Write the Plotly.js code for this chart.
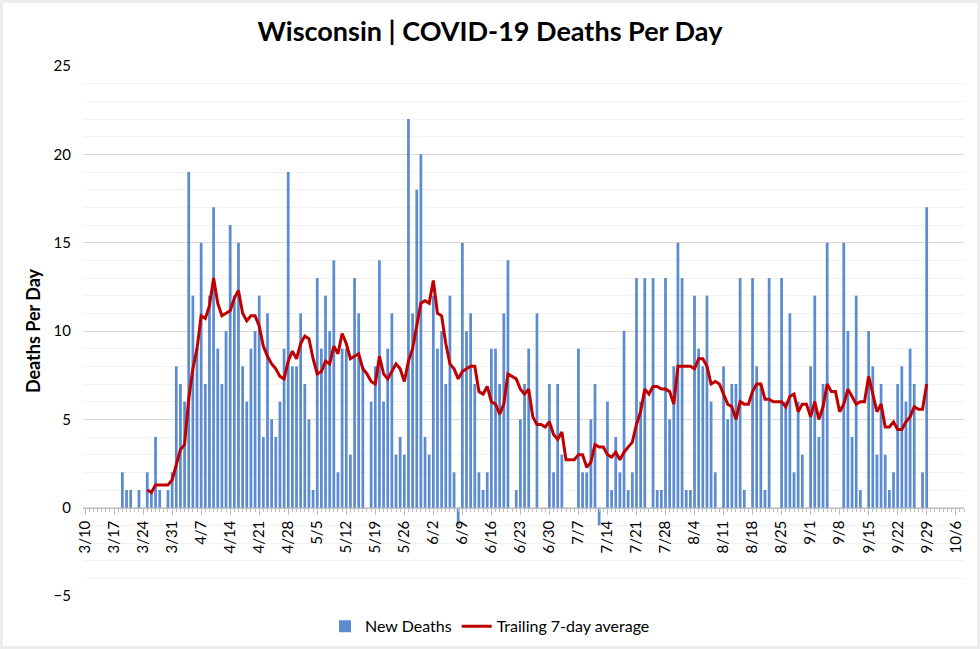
<!DOCTYPE html>
<html>
<head>
<meta charset="utf-8">
<script src="https://cdn.plot.ly/plotly-3.0.1.min.js"></script>
<style>
  html, body { margin: 0; padding: 0; background: #ffffff; }
  #chart { position: absolute; left: 0; top: 0; width: 980px; height: 649px; background: #ffffff; box-shadow: inset 0 0 0 3px #ececec; }
</style>
</head>
<body>
<div id="chart"></div>
<script>
// ---- data ----
const firstDate = '2020-03-19';      // first daily value
const avgFirstDate = '2020-03-25';   // first trailing-average value

const deaths = [
  2,1,1,0,1,0,2,1,4,1,0,1,2,8,
  7,6,19,12,9,15,7,12,17,9,7,10,16,12,15,8,6,9,10,12,4,11,5,4,6,9,19,8,8,11,
  7,5,1,13,9,12,10,14,2,9,9,3,13,11,8,0,6,8,14,6,9,11,3,4,3,22,11,18,20,4,3,
  12,9,10,7,12,2,-1,15,10,11,7,2,1,2,9,9,7,11,14,0,1,5,7,9,0,11,0,0,7,2,
  7,3,0,0,0,9,2,2,5,7,-1,0,6,1,4,2,10,1,2,13,6,13,0,13,1,1,13,5,8,15,13,
  1,1,12,9,8,12,6,2,0,8,5,7,7,13,1,0,13,8,7,1,13,0,0,13,6,11,2,6,3,0,8,
  12,4,7,15,0,0,0,15,10,4,12,1,0,10,8,3,7,3,1,2,7,8,6,9,7,0,2,17
];

const avg7 = [
  1.00,0.86,1.29,1.29,1.29,1.29,1.57,2.43,
  3.29,3.57,6.14,7.86,9.00,10.86,10.71,11.43,13.00,11.57,10.86,11.00,11.14,11.86,12.29,11.00,10.57,10.86,10.86,10.29,9.14,8.57,8.14,7.86,7.43,7.29,8.29,8.86,8.43,9.29,
  9.71,9.57,8.43,7.57,7.71,8.29,8.14,9.14,8.71,9.86,9.29,8.43,8.57,8.71,7.86,7.57,7.14,7.00,8.57,7.57,7.29,7.71,8.14,7.86,7.14,8.29,9.00,10.29,11.57,11.71,11.57,
  12.86,11.00,10.86,9.29,8.14,7.86,7.29,7.71,7.86,8.00,8.00,6.57,6.43,6.86,6.00,5.86,5.29,5.86,7.57,7.43,7.29,6.71,6.43,6.71,5.14,4.71,4.71,4.57,4.86,4.14,
  3.86,4.29,2.71,2.71,2.71,3.00,3.00,2.29,2.57,3.57,3.43,3.43,3.00,2.86,3.14,2.71,3.14,3.43,3.71,4.71,5.43,6.71,6.43,6.86,6.86,6.71,6.71,6.57,5.86,8.00,8.00,
  8.00,8.00,7.86,8.43,8.43,8.00,7.00,7.14,7.00,6.43,5.86,5.71,5.00,6.00,5.86,5.86,6.57,7.00,7.00,6.14,6.14,6.00,6.00,6.00,5.71,6.29,6.43,5.43,5.86,5.86,5.14,
  6.00,5.00,5.71,7.00,6.57,6.57,5.43,5.86,6.71,6.29,5.86,6.00,6.00,7.43,6.43,5.43,5.86,4.57,4.57,4.86,4.43,4.43,4.86,5.14,5.71,5.57,5.57,7.00
];

const titleText = 'Wisconsin | COVID-19 Deaths Per Day';
const yTitle = 'Deaths Per Day';
const seriesNames = ['New Deaths', 'Trailing 7-day average'];

// ---- chart ----
const DAY = 86400000;
const FONT = 'Lato, "Open Sans", sans-serif';

const traces = [
  {
    type: 'bar',
    name: seriesNames[0],
    x0: firstDate,
    dx: DAY,
    y: deaths,
    marker: { color: '#5b8bd0', line: { width: 0 } },
    hoverinfo: 'skip'
  },
  {
    type: 'scatter',
    mode: 'lines',
    name: seriesNames[1],
    x0: avgFirstDate,
    dx: DAY,
    y: avg7,
    line: { color: '#c00000', width: 3 },
    hoverinfo: 'skip'
  }
];

const layout = {
  width: 980,
  height: 649,
  paper_bgcolor: 'rgba(0,0,0,0)',
  plot_bgcolor: 'rgba(0,0,0,0)',
  margin: { l: 83, r: 16, t: 66, b: 53 },
  font: { family: FONT, size: 15, color: '#000000' },
  title: {
    text: '<b>' + titleText + '</b>',
    font: { family: FONT, size: 27, color: '#000000' },
    xref: 'container', x: 0.5, xanchor: 'center',
    yref: 'container', y: 0.952, yanchor: 'middle'
  },
  bargap: 0.34,
  showlegend: true,
  legend: {
    orientation: 'h',
    xref: 'container', x: 0.5, xanchor: 'center',
    yref: 'container', y: 0.035, yanchor: 'middle',
    font: { family: FONT, size: 16, color: '#000000' },
    traceorder: 'normal'
  },
  xaxis: {
    type: 'date',
    range: ['2020-03-09 12:00', '2020-10-08 00:00'],
    tick0: '2020-03-10',
    dtick: 7 * DAY,
    tickformat: '%-m/%-d',
    tickangle: -90,
    anchor: 'free',
    position: 1 / 6,
    showline: true,
    linecolor: '#bfbfbf',
    linewidth: 1,
    ticks: 'outside',
    ticklen: 6,
    tickcolor: '#bfbfbf',
    minor: { dtick: DAY, tick0: '2020-03-10', ticks: 'outside', ticklen: 3, tickcolor: '#bfbfbf' },
    showgrid: false,
    zeroline: false,
    tickfont: { family: FONT, size: 15, color: '#000000' },
    fixedrange: true
  },
  yaxis: {
    range: [-5, 25],
    tick0: 0,
    dtick: 5,
    showline: false,
    zeroline: false,
    ticks: '',
    gridcolor: '#d9d9d9',
    gridwidth: 1,
    minor: { dtick: 1, showgrid: true, gridcolor: '#f2f2f2', gridwidth: 1 },
    tickfont: { family: FONT, size: 15, color: '#000000' },
    ticklabelstandoff: 11,
    title: { text: '<b>' + yTitle + '</b>', font: { family: FONT, size: 18, color: '#000000' }, standoff: 8 },
    fixedrange: true
  }
};

Plotly.newPlot('chart', traces, layout, { displayModeBar: false, staticPlot: true });
</script>
</body>
</html>
